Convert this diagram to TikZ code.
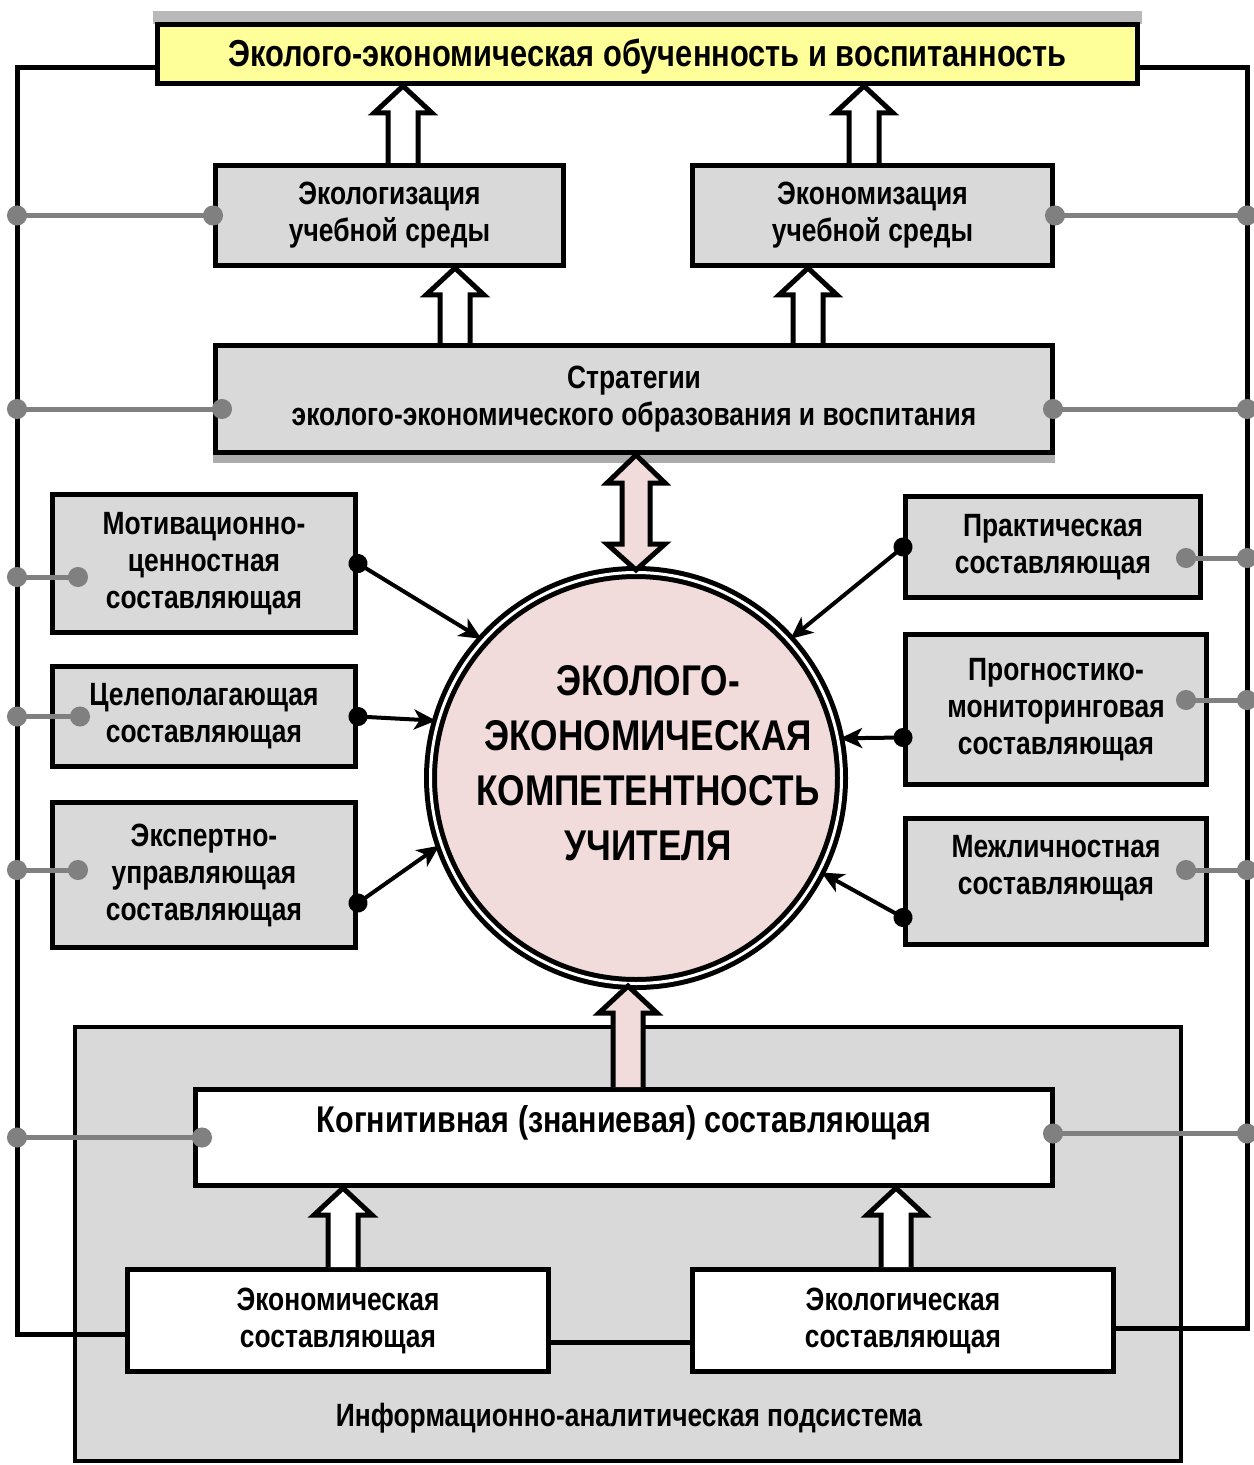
\documentclass[tikz,border=0pt]{standalone}
\usepackage{fontspec}
\setmainfont{Liberation Sans}[FakeStretch=0.82]
\usetikzlibrary{calc,arrows.meta}

\definecolor{boxgray}{HTML}{D9D9D9}
\definecolor{titleyel}{HTML}{FFFF99}
\definecolor{corepink}{HTML}{F2DCDB}
\definecolor{linkgray}{HTML}{808080}

\tikzset{
  boxfont/.style={font=\fontsize{16.1}{18.5}\selectfont\bfseries},
  box/.style={draw, line width=2.5pt, fill=boxgray, align=center, inner sep=0pt, boxfont},
  wbox/.style={box, fill=white},
  tap/.style={draw=linkgray, line width=2.5pt, {Circle[length=10pt]}-{Circle[length=10pt]}, shorten <=-5pt, shorten >=-5pt},
  feed/.style={line width=2pt, {Circle[length=9.5pt]}-{Stealth[length=11pt,width=10pt,inset=3pt]}, shorten <=-4.75pt},
  fb/.style={line width=2.5pt},
  fat/.style={draw, line width=2.5pt, line join=miter}
}

% hollow block arrow: x from #1, foot on #2, tip on #3
\newcommand{\fatup}[4]{%
  \draw[fat, fill=#4] ($(#1 |- #2)+(-15,0)$) -- ($(#1 |- #3)+(-15,27)$) -- ($(#1 |- #3)+(-29,27)$) -- (#1 |- #3) -- ($(#1 |- #3)+(29,27)$) -- ($(#1 |- #3)+(15,27)$) -- ($(#1 |- #2)+(15,0)$);
}
\newcommand{\fatboth}[4]{%
  \draw[fat, fill=#4] (#1 |- #2) -- ($(#1 |- #2)+(29,28)$) -- ($(#1 |- #2)+(14,28)$) -- ($(#1 |- #3)+(14,-26)$) -- ($(#1 |- #3)+(29,-26)$) -- (#1 |- #3) -- ($(#1 |- #3)+(-29,-26)$) -- ($(#1 |- #3)+(-14,-26)$) -- ($(#1 |- #2)+(-14,28)$) -- ($(#1 |- #2)+(-29,28)$) -- cycle;
}

\begin{document}
\begin{tikzpicture}[x=0.5pt, y=-0.5pt]
    \useasboundingbox (0,0) rectangle (1253,1465);
    \coordinate (fbl) at (17,0);
    \coordinate (fbr) at (1247,0);

    % information subsystem
    \node[draw, line width=2pt, fill=boxgray, minimum width=553pt, minimum height=217pt, inner sep=0pt] (infosys) at (628,1244) {};
    \node[boxfont] (infolbl) at (629,1418) {Информационно-аналитическая подсистема};

    % boxes
    \fill[gray!55] (153,11) rectangle (1142,24);
    \node[box, fill=titleyel, minimum width=490pt, minimum height=29.5pt, font=\fontsize{18.8}{20}\selectfont\bfseries,
      label={[font=\fontsize{18.8}{20}\selectfont\bfseries, yshift=-1.5pt]center:{Эколого-экономическая обученность и воспитанность}}] (top) at (647.5,54) {};
    \node[box, minimum width=174pt, minimum height=50pt] (ecol) at (389.5,215.5) {Экологизация\\учебной среды};
    \node[box, minimum width=180pt, minimum height=50pt] (econ) at (872.5,215.5) {Экономизация\\учебной среды};
    \fill[gray!65] (213,450) rectangle (1055,463);
    \node[box, minimum width=418.5pt, minimum height=53.5pt] (strat) at (634,399) {Стратегии\\эколого-экономического образования и воспитания};

    \node[box, minimum width=151.5pt, minimum height=69pt] (mot) at (204,563.5) {Мотивационно-\\ценностная\\составляющая};
    \node[box, minimum width=151.5pt, minimum height=50pt] (goal) at (204,716.5) {Целеполагающая\\составляющая};
    \node[box, minimum width=151.5pt, minimum height=72.5pt] (exp) at (204,875) {Экспертно-\\управляющая\\составляющая};
    \node[box, minimum width=147.5pt, minimum height=50.5pt] (prac) at (1053,547) {Практическая\\составляющая};
    \node[box, minimum width=150.5pt, minimum height=75pt] (prog) at (1056,709.5) {Прогностико-\\мониторинговая\\составляющая};
    \node[box, minimum width=150.5pt, minimum height=63pt, label={[boxfont, align=center, yshift=6.5pt]center:{Межличностная\\составляющая}}] (inter) at (1056,881.5) {};

    \node[wbox, minimum width=428.5pt, minimum height=48pt, label={[font=\fontsize{18.6}{20}\selectfont\bfseries, yshift=7.5pt]center:{Когнитивная (знаниевая) составляющая}}] (cogn) at (624,1137.5) {};
    \node[wbox, minimum width=210.5pt, minimum height=51pt] (econc) at (338,1320.5) {Экономическая\\составляющая};
    \node[wbox, minimum width=210.5pt, minimum height=51pt] (ecolc) at (903,1320.5) {Экологическая\\составляющая};

    % core
    \node[circle, draw, double=white, double distance=1.5pt, line width=2.5pt, fill=corepink, minimum size=205.5pt, inner sep=0pt,
      label={[align=center, xshift=6pt, yshift=7.5pt, font=\fontsize{21.5}{27.5}\selectfont\bfseries]center:{ЭКОЛОГО-\\ЭКОНОМИЧЕСКАЯ\\КОМПЕТЕНТНОСТЬ\\УЧИТЕЛЯ}}] (core) at (636,778) {};

    % feedback lines
    \coordinate (el) at ([yshift=-7pt]econc.west);
    \coordinate (er) at ([yshift=-3.75pt]ecolc.east);
    \draw[fb] ([yshift=-7pt]top.west) -| (el -| fbl) -- (el);
    \draw[fb] ([yshift=-7pt]top.east) -| (er -| fbr) -- (er);
    \draw[fb] ([yshift=-11pt]econc.east) -- ([yshift=-11pt]ecolc.west);

    % gray taps
    \draw[tap] (ecol.west) -- (ecol.west -| fbl);
    \draw[tap] ([xshift=4.5pt,yshift=-5pt]strat.west) -- ([yshift=-5pt]strat.west -| fbl);
    \draw[tap] ([xshift=14pt,yshift=-6.75pt]mot.west) -- ([yshift=-6.75pt]mot.west -| fbl);
    \draw[tap] ([xshift=15pt]goal.west) -- (goal.west -| fbl);
    \draw[tap] ([xshift=14pt,yshift=2.5pt]exp.west) -- ([yshift=2.5pt]exp.west -| fbl);
    \draw[tap] ([xshift=4.5pt]cogn.west) -- (cogn.west -| fbl);
    \draw[tap] (econ.east) -- (econ.east -| fbr);
    \draw[tap] ([xshift=-1pt,yshift=-5pt]strat.east) -- ([yshift=-5pt]strat.east -| fbr);
    \draw[tap] ([xshift=-8.5pt,yshift=-5.5pt]prac.east) -- ([yshift=-5.5pt]prac.east -| fbr);
    \draw[tap] ([xshift=-11.5pt,yshift=4.75pt]prog.east) -- ([yshift=4.75pt]prog.east -| fbr);
    \draw[tap] ([xshift=-11.5pt,yshift=5.75pt]inter.east) -- ([yshift=5.75pt]inter.east -| fbr);
    \draw[tap] ([xshift=-1pt,yshift=2pt]cogn.east) -- ([yshift=2pt]cogn.east -| fbr);

    % components to core
    \draw[feed] (mot.east) -- (core.138);
    \draw[feed] (goal.east) -- (core.164);
    \draw[feed] ([yshift=-14pt]exp.east) -- (core.199);
    \draw[feed] (prac.west) -- (core.42);
    \draw[feed] ([yshift=-14pt]prog.west) -- (core.11);
    \draw[feed] ([yshift=-18pt]inter.west) -- (core.-27);

    % block arrows
    \coordinate (u1) at ([xshift=6.75pt]ecol.north);
    \coordinate (u2) at ([xshift=-4.25pt]econ.north);
    \coordinate (u3) at ([xshift=32.75pt]ecol.south);
    \coordinate (u4) at ([xshift=-32.25pt]econ.south);
    \coordinate (u6) at ([xshift=2pt]cogn.north);
    \coordinate (u7) at ([xshift=2.5pt]econc.north);
    \coordinate (u8) at ([xshift=-3.5pt]ecolc.north);
    \fatup{u1}{ecol.north}{top.south}{white}
    \fatup{u2}{econ.north}{top.south}{white}
    \fatup{u3}{strat.north}{ecol.south}{white}
    \fatup{u4}{strat.north}{econ.south}{white}
    \fatboth{core.north}{strat.south}{core.north}{corepink}
    \fatup{u6}{cogn.north}{core.south}{corepink}
    \fatup{u7}{econc.north}{cogn.south}{white}
    \fatup{u8}{ecolc.north}{cogn.south}{white}
\end{tikzpicture}
\end{document}
